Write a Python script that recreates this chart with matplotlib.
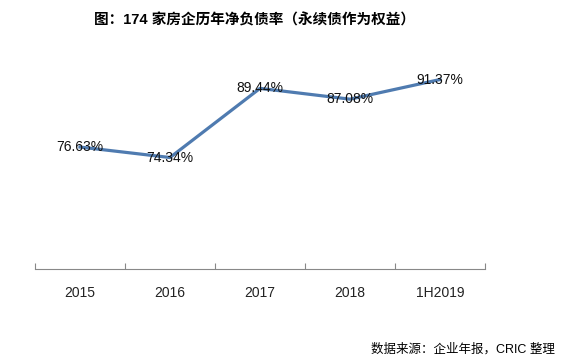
import matplotlib
matplotlib.use("Agg")
import matplotlib.pyplot as plt

plt.rcParams['font.family'] = ['Liberation Sans', 'Noto Sans CJK SC', 'DejaVu Sans']

categories = ['2015', '2016', '2017', '2018', '1H2019']
net_debt_ratio = [76.63, 74.34, 89.44, 87.08, 91.37]
title = '图：174 家房企历年净负债率（永续债作为权益）'
source = '数据来源：企业年报，CRIC 整理'

fig = plt.figure(figsize=(5.66, 3.62), dpi=100)
ax = fig.add_axes([35 / 566, 93 / 362, 450 / 566, 229 / 362])

x = list(range(len(categories)))
ax.plot(x, net_debt_ratio, color='#4f7bb0', lw=2.3, solid_joinstyle='round')
for xi, v in zip(x, net_debt_ratio):
    ax.text(xi, v, '%.2f%%' % v, ha='center', va='center', fontsize=10, color='#111111')

ax.set_xlim(-0.5, 4.5)
ax.set_ylim(50, 100)
ax.set_xticks([i - 0.5 for i in range(len(categories) + 1)])
ax.set_xticklabels([])
ax.set_xticks(x, minor=True)
ax.set_xticklabels(categories, minor=True, fontsize=10, color='#222222')
ax.tick_params(axis='x', which='major', length=4, direction='in', color='#888888')
ax.tick_params(axis='x', which='minor', length=0, pad=12)
ax.set_yticks([])
for s in ['top', 'right', 'left']:
    ax.spines[s].set_visible(False)
ax.spines['bottom'].set_color('#888888')

fig.text(254 / 566, 1 - 20 / 362, title, ha='center', va='center',
         fontsize=10.5, fontweight='bold', family=['Liberation Sans', 'Noto Sans CJK SC'])
fig.text(555 / 566, 1 - 349 / 362, source, ha='right', va='center', fontsize=9,
         family=['Liberation Sans', 'Noto Sans CJK SC'])

fig.savefig('out.png', dpi=100)
